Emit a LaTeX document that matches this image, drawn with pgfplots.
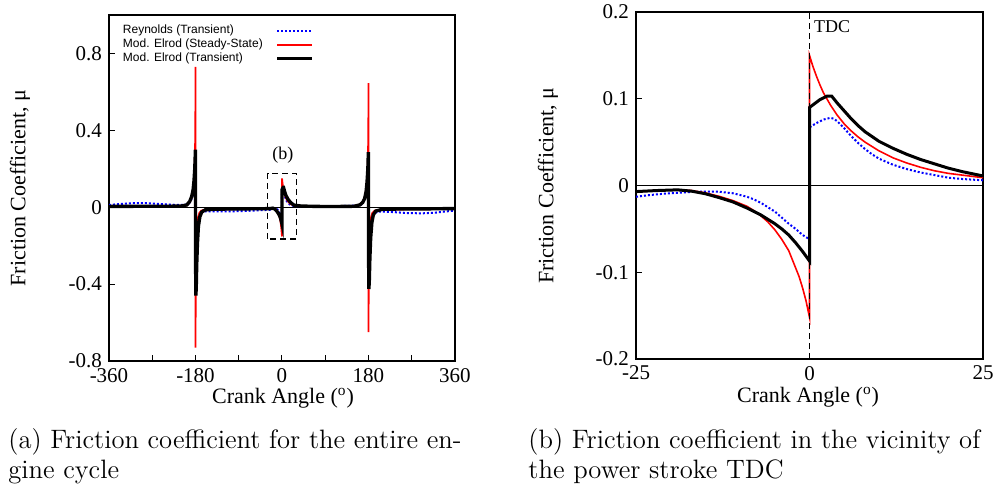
\documentclass[border=0pt]{standalone}
\usepackage{fontspec}
\usepackage{pgfplots}
\pgfplotsset{compat=1.18}
\newfontfamily\tnr{Liberation Serif}
\newfontfamily\arl{Liberation Sans}
\definecolor{gpblue}{RGB}{0,0,255}
\definecolor{gpred}{RGB}{255,0,0}

\pgfplotstableread{
x y
-360 0.012
-340 0.016
-320 0.020
-300 0.022
-280 0.021
-260 0.018
-240 0.015
-220 0.012
-205 0.012
-195 0.016
-190 0.030
-186 0.060
-183 0.120
-181 0.200
-180.2 0.260
-180 -0.300
-179 -0.280
-177 -0.170
-175 -0.090
-172 -0.045
-168 -0.028
-160 -0.022
-120 -0.022
-80 -0.020
-50 -0.016
-30 -0.014
-25 -0.013
-21 -0.0095
-17 -0.0075
-13 -0.0072
-11 -0.009
-9 -0.013
-7 -0.020
-5 -0.030
-3 -0.044
-1 -0.057
0 -0.062
0 0.067
2 0.076
3 0.078
4 0.074
6 0.057
8 0.042
10 0.031
14 0.019
18 0.012
25 0.006
40 0.005
60 0.005
90 0.006
120 0.006
150 0.008
165 0.014
172 0.040
176 0.090
178.5 0.150
179.8 0.220
180 -0.280
181 -0.250
183 -0.150
186 -0.070
190 -0.035
200 -0.022
230 -0.025
260 -0.030
290 -0.032
320 -0.028
340 -0.022
360 -0.018
}\reyA

\pgfplotstableread{
x y
-360 0.003
-250 0.004
-210 0.005
-198 0.010
-192 0.025
-188 0.050
-185 0.090
-183 0.140
-181.5 0.220
-180.6 0.350
-180.2 0.500
-180.02 0.730
-179.98 -0.730
-179.7 -0.500
-179.3 -0.330
-178.5 -0.200
-177 -0.100
-175 -0.055
-172 -0.030
-168 -0.018
-160 -0.012
-120 -0.010
-60 -0.009
-40 -0.008
-25 -0.0075
-19 -0.005
-15 -0.0085
-11 -0.0175
-7 -0.035
-5 -0.051
-3 -0.075
-2 -0.095
-1 -0.118
0 -0.152
0 0.150
1 0.126
2 0.107
4 0.081
6 0.063
8 0.050
12 0.032
16 0.021
20 0.014
25 0.009
40 0.006
80 0.004
120 0.004
150 0.006
162 0.014
168 0.028
172 0.050
175 0.090
177 0.140
178.6 0.220
179.5 0.350
179.9 0.500
179.98 0.645
180.02 -0.650
180.3 -0.450
180.8 -0.300
181.7 -0.180
183 -0.100
185 -0.055
188 -0.030
193 -0.018
210 -0.012
300 -0.010
360 -0.008
}\redA

\pgfplotstableread{
x y
-360 0.004
-300 0.005
-240 0.005
-210 0.006
-198 0.012
-192 0.030
-188 0.055
-185 0.090
-183 0.140
-181.5 0.200
-180.5 0.270
-180.05 0.300
-179.95 -0.200
-179.3 -0.460
-178.5 -0.420
-177.5 -0.300
-176 -0.190
-174 -0.100
-171 -0.050
-167 -0.025
-160 -0.014
-140 -0.010
-100 -0.009
-60 -0.008
-40 -0.008
-25 -0.007
-19 -0.005
-15 -0.0095
-11 -0.019
-7 -0.034
-5 -0.044
-3 -0.057
-1 -0.076
0 -0.087
0 0.090
1 0.096
2.5 0.103
3.2 0.103
4 0.095
6 0.077
8 0.062
12 0.043
16 0.030
20 0.020
25 0.011
40 0.006
80 0.004
120 0.004
150 0.005
162 0.012
168 0.025
172 0.045
175 0.080
177 0.130
178.7 0.200
179.8 0.287
180.05 -0.200
180.8 -0.425
181.7 -0.380
182.8 -0.270
184.5 -0.160
187 -0.080
190 -0.040
195 -0.020
210 -0.010
260 -0.009
320 -0.008
360 -0.007
}\blkA

\pgfplotstableread{
x y
-25 -0.013
-23 -0.011
-21 -0.0095
-19 -0.0085
-17 -0.0075
-15 -0.007
-13 -0.0072
-11 -0.009
-9 -0.013
-8 -0.016
-7 -0.020
-6 -0.025
-5 -0.030
-4 -0.037
-3 -0.044
-2 -0.050
-1 -0.057
0 -0.062
0 0.067
1 0.072
2 0.076
3 0.078
3.5 0.077
4 0.074
5 0.066
6 0.057
7 0.049
8 0.042
9 0.036
10 0.031
12 0.024
14 0.019
16 0.015
18 0.012
20 0.009
22 0.0075
25 0.006
}\reyB

\pgfplotstableread{
x y
-25 -0.0075
-23 -0.0062
-21 -0.0052
-19 -0.005
-17 -0.0058
-15 -0.0085
-13 -0.0125
-11 -0.0175
-9 -0.024
-8 -0.029
-7 -0.035
-6 -0.042
-5 -0.051
-4 -0.062
-3 -0.075
-2 -0.095
-1.5 -0.105
-1 -0.118
-0.5 -0.133
0 -0.152
0 0.150
0.5 0.137
1 0.126
1.5 0.116
2 0.107
3 0.093
4 0.081
5 0.071
6 0.063
7 0.056
8 0.050
10 0.040
12 0.032
14 0.026
16 0.021
18 0.017
20 0.014
22 0.012
25 0.009
}\redB

\pgfplotstableread{
x y
-25 -0.007
-22 -0.0058
-19 -0.005
-17 -0.0065
-15 -0.0095
-13 -0.014
-11 -0.019
-9 -0.026
-7 -0.034
-6 -0.039
-5 -0.044
-4 -0.050
-3 -0.057
-2 -0.066
-1 -0.076
0 -0.087
0 0.090
0.5 0.093
1 0.096
1.5 0.099
2 0.101
2.5 0.103
3.2 0.103
3.6 0.099
4 0.095
5 0.086
6 0.077
7 0.069
8 0.062
10 0.051
12 0.043
14 0.036
16 0.030
18 0.025
20 0.020
22 0.016
25 0.011
}\blkB

\begin{document}
\begin{tikzpicture}
\useasboundingbox (0pt,0pt) rectangle (500pt,-246.5pt);
\pgfplotsset{
 common/.style={
  scale only axis,
  axis line style={line width=0.6pt},
  tick style={line width=0.5pt, black},
  major tick length=3pt, minor tick length=3pt,
  tick align=inside,
  xtick pos=bottom, ytick pos=left,
  /pgf/number format/assume math mode=true,
  ticklabel style={font=\tnr\fontsize{10.5}{12}\selectfont},
  label style={font=\tnr\fontsize{11}{13}\selectfont},
 },
 rey/.style={color=gpblue, line width=1pt, dash pattern=on 1pt off 1pt},
 red/.style={color=gpred, line width=0.9pt},
 blk/.style={color=black, line width=1.7pt},
}
% ---------------- (a)
\begin{axis}[common,
  at={(54.5pt,-180.5pt)}, anchor=south west, width=173pt, height=173pt,
  xmin=-360, xmax=360, ymin=-0.8, ymax=1.0,
  xtick={-360,-180,0,180,360}, xticklabels={-360,-180,0,180,360},
  minor xtick={-270,-90,90,270},
  ytick={-0.8,-0.4,0,0.4,0.8}, yticklabels={-0.8,-0.4,0,0.4,0.8},
  xlabel={Crank Angle (\textsuperscript{o})},
  ylabel={Friction Coefficient, μ},
  xlabel style={at={(axis description cs:0.503,-0.108)}, anchor=center},
  ylabel style={at={(axis description cs:-0.257,0.5)}, anchor=center},
  legend style={at={(axis description cs:0.02,0.985)}, anchor=north west,
    draw=none, fill=none, font=\arl\fontsize{6}{6.5}\selectfont,
    nodes={inner sep=0.3pt}, column sep=6pt, row sep=0.4pt},
  legend plot pos=right, legend cell align=left,
  legend image code/.code={\draw[#1] (0pt,0pt) -- (17.5pt,0pt);},
]
\draw[line width=0.6pt] (axis cs:-360,0) -- (axis cs:360,0);
\addplot[rey] table[x=x,y=y] {\reyA};
\addlegendentry{Reynolds (Transient)}
\addplot[red] table[x=x,y=y] {\redA};
\addlegendentry{Mod. Elrod (Steady-State)}
\addplot[blk] table[x=x,y=y] {\blkA};
\addlegendentry{Mod. Elrod (Transient)}
\draw[line width=0.8pt, dash pattern=on 3pt off 2pt] (axis cs:-30,-0.165) rectangle (axis cs:30,0.175);
\node[font=\tnr\fontsize{9}{10}\selectfont] at (axis cs:2,0.27) {(b)};
\end{axis}
% ---------------- (b)
\begin{axis}[common,
  at={(318pt,-179.5pt)}, anchor=south west, width=173.5pt, height=173.5pt,
  xmin=-25, xmax=25, ymin=-0.2, ymax=0.2,
  xtick={-25,0,25}, xticklabels={-25,0,25},
  ytick={-0.2,-0.1,0,0.1,0.2}, yticklabels={-0.2,-0.1,0,0.1,0.2},
  xlabel={Crank Angle (\textsuperscript{o})},
  ylabel={Friction Coefficient, μ},
  xlabel style={at={(axis description cs:0.496,-0.11)}, anchor=center},
  ylabel style={at={(axis description cs:-0.254,0.5)}, anchor=center},
]
\draw[line width=0.6pt] (axis cs:-25,0) -- (axis cs:25,0);
\addplot[rey] table[x=x,y=y] {\reyB};
\addplot[red, line width=0.8pt] table[x=x,y=y] {\redB};
\addplot[blk, line width=1.5pt] table[x=x,y=y] {\blkB};
\draw[line width=0.8pt, dash pattern=on 3pt off 2pt] (axis cs:0,-0.2) -- (axis cs:0,0.2);
\node[anchor=west, inner sep=0pt, font=\tnr\fontsize{9}{10}\selectfont] at (axis cs:0.6,0.183) {TDC};
\end{axis}
% ---------------- captions
\begin{scope}[every node/.style={anchor=base west, inner sep=0pt, font=\fontsize{13.3}{15}\selectfont}]
\node at (4pt,-224pt) {(a) Friction coefficient for the entire en-};
\node at (4pt,-239pt) {gine cycle};
\node at (264pt,-224pt) {(b) Friction coefficient in the vicinity of};
\node at (264pt,-239pt) {the power stroke TDC};
\end{scope}
\end{tikzpicture}
\end{document}
